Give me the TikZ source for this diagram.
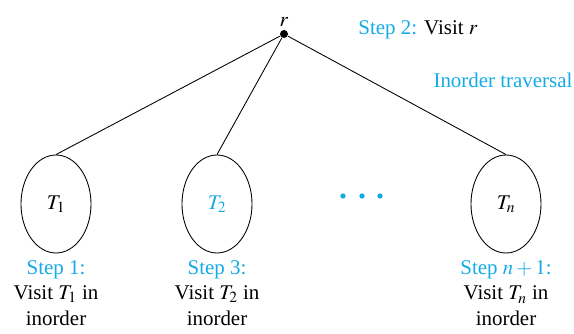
\documentclass[tikz,border=0pt]{standalone}
\usepackage{mathptmx}
\usepackage{fontspec}
\setmainfont{Liberation Serif}
\usetikzlibrary{shapes.geometric,positioning}
\definecolor{stepblue}{RGB}{20,170,230}
\begin{document}
\begin{tikzpicture}[x=0.75pt, y=-0.75pt, line width=0.65pt,
    every node/.style={font=\fontsize{15.7}{19}\selectfont},
    subtree/.style={draw, ellipse, minimum width=52.5pt, minimum height=73.5pt, inner sep=0pt},
    steplabel/.style={align=center, inner sep=0pt, below=5pt of #1}]
  \useasboundingbox (0,0) rectangle (574,334);
  % root
  \node[circle, fill, inner sep=0pt, minimum size=6pt] (r) at (284,34) {};
  \node[above=2pt of r, inner sep=0pt] (rname) {$r$};
  \node (visitr) at (418,30) {\textcolor{stepblue}{Step 2:} Visit $r$};
  \node[text=stepblue] (title) at (503,80) {Inorder traversal};
  % subtrees
  \node[subtree] (t1) at (56,204) {$T_1$};
  \node[subtree] (t2) at (217,204) {\textcolor{stepblue}{$T_2$}};
  \node[subtree] (tn) at (506,204) {$T_n$};
  \draw (r) -- (t1.north);
  \draw (r) -- (t2.north);
  \draw (r) -- (tn.north);
  % dots
  \foreach \px [count=\i] in {343,362,380}
    \node[circle, fill=stepblue, inner sep=0pt, minimum size=4pt] (dot\i) at (\px,196) {};
  % steps
  \node[steplabel=t1] (s1) {\textcolor{stepblue}{Step 1:}\\Visit $T_1$ in\\inorder};
  \node[steplabel=t2] (s3) {\textcolor{stepblue}{Step 3:}\\Visit $T_2$ in\\inorder};
  \node[steplabel=tn] (sn) {\textcolor{stepblue}{Step $n+1$:}\\Visit $T_n$ in\\inorder};
\end{tikzpicture}
\end{document}
